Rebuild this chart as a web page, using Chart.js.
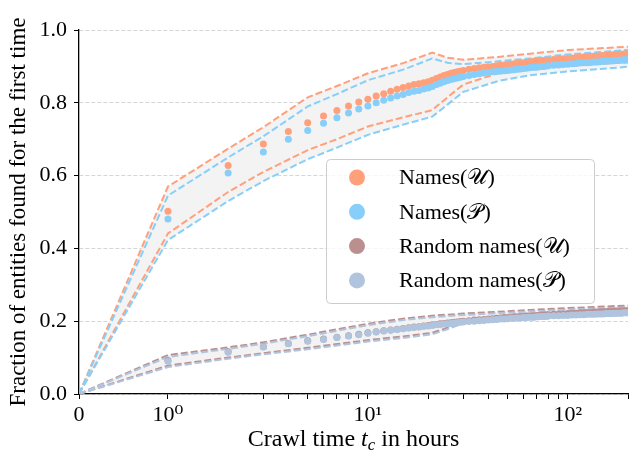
<!DOCTYPE html>
<html>
<head>
<meta charset="utf-8">
<script src="https://cdn.jsdelivr.net/npm/chart.js@4.4.1/dist/chart.umd.min.js"></script>
<style>
  html, body { margin: 0; padding: 0; background: #fff; }
</style>
</head>
<body>
<canvas id="myChart" width="641" height="452"></canvas>
<script>
// crawl time in hours for the dots
const hours = [1, 2, 3, 4, 5, 6, 7, 8, 9, 10, 11, 12, 13, 14, 15, 16, 17, 18, 19, 20,
    21, 22, 23, 24, 25, 26, 27, 28, 29, 30, 32, 34, 36, 38, 40, 42, 44, 46, 48, 50,
    52, 54, 56, 58, 60, 62, 64, 66, 68, 70, 72, 74, 76, 78, 80, 85, 90, 95, 100, 105,
    110, 115, 120, 125, 130, 135, 140, 145, 150, 155, 160, 165, 170, 175, 180, 185, 190, 195, 200];

const namesU = [.502, .628, .687, .721, .745, .764, .779, .791, .802, .810, .819, .825, .832, .837, .842, .846, .850, .852, .855, .858,
    .862, .867, .871, .875, .878, .881, .883, .885, .887, .889, .892, .894, .896, .898, .899, .900, .902, .903, .904, .905,
    .906, .907, .908, .909, .910, .911, .912, .913, .914, .914, .915, .916, .916, .917, .917, .919, .920, .921, .922, .923,
    .924, .925, .926, .926, .927, .928, .928, .929, .930, .930, .931, .931, .932, .932, .933, .933, .934, .934, .935];
const namesP = [.481, .607, .665, .700, .724, .744, .759, .772, .783, .791, .800, .807, .813, .819, .823, .828, .832, .834, .838, .841,
    .845, .850, .854, .858, .861, .864, .866, .868, .870, .872, .875, .878, .880, .882, .883, .885, .886, .887, .888, .889,
    .890, .891, .892, .893, .894, .895, .896, .897, .898, .898, .899, .900, .900, .901, .902, .903, .904, .905, .906, .907,
    .908, .909, .910, .910, .911, .912, .912, .913, .914, .914, .915, .915, .916, .916, .917, .917, .918, .918, .919];
const randomU = [.092, .116, .130, .139, .146, .151, .156, .160, .164, .168, .171, .174, .176, .178, .180, .182, .184, .185, .187, .188,
    .190, .191, .193, .194, .195, .196, .197, .198, .199, .200, .201, .203, .204, .205, .206, .207, .208, .209, .210, .210,
    .211, .212, .212, .213, .213, .214, .214, .215, .215, .216, .216, .217, .217, .218, .218, .219, .220, .220, .221, .222,
    .222, .223, .223, .224, .224, .225, .225, .226, .226, .226, .227, .227, .227, .228, .228, .228, .229, .229, .229];
const randomP = [.090, .115, .129, .138, .145, .150, .155, .159, .163, .167, .170, .173, .175, .177, .179, .181, .183, .184, .186, .187,
    .188, .190, .191, .192, .193, .194, .195, .196, .197, .198, .199, .200, .201, .202, .203, .204, .205, .206, .206, .207,
    .208, .208, .209, .209, .210, .210, .211, .211, .211, .212, .212, .213, .213, .213, .214, .215, .215, .216, .216, .217,
    .217, .218, .218, .219, .219, .219, .220, .220, .220, .221, .221, .221, .222, .222, .222, .222, .223, .223, .223];

// spread bands (dashed lines)
const bandHours = [0, 1, 2, 3, 5, 7, 10, 15, 21, 25, 30, 45, 65, 100, 200];
const namesUHi = [0, .570, .674, .733, .815, .846, .881, .909, .938, .924, .918, .926, .935, .945, .954];
const namesULo = [0, .441, .555, .610, .670, .700, .735, .760, .780, .815, .850, .882, .895, .902, .911];
const namesPHi = [0, .545, .650, .708, .790, .824, .862, .891, .922, .910, .906, .914, .922, .933, .945];
const namesPLo = [0, .423, .530, .585, .645, .677, .712, .740, .762, .795, .830, .860, .876, .886, .899];

const bandHoursR = [0, 1, 2, 3, 5, 10, 15, 21, 25, 30, 45, 65, 100, 200];
const randomUHi = [0, .107, .128, .142, .163, .193, .207, .215, .218, .221, .226, .231, .236, .243];
const randomULo = [0, .078, .100, .112, .127, .148, .158, .168, .182, .198, .209, .213, .216, .221];
const randomPHi = [0, .102, .124, .138, .159, .189, .203, .211, .214, .217, .222, .227, .232, .238];
const randomPLo = [0, .074, .097, .109, .123, .144, .154, .164, .178, .194, .205, .209, .212, .217];

const labels = ['Names(\u{1D4B0})', 'Names(\u{1D4AB})', 'Random names(\u{1D4B0})', 'Random names(\u{1D4AB})'];
const colors = ['#FFA07A', '#87CEFA', '#BC8F8F', '#B0C4DE'];

const xTicks = [0, 1, 10, 100];
const xTickLabels = ['0', '10\u2070', '10\u00B9', '10\u00B2'];

const FONT = '"Liberation Serif", "DejaVu Serif", serif';

// symmetric log axis: linear between 0 and 1, log above
const LIN = 0.445;
class SymlogScale extends Chart.LinearScale {
    static id = 'symlog';
    tr(v) {
        return v <= 1 ? v * LIN : LIN + Math.log10(v);
    }
    untr(t) {
        return t <= LIN ? t / LIN : Math.pow(10, t - LIN);
    }
    configure() {
        super.configure();
        this._tMin = this.tr(this.min);
        this._tMax = this.tr(this.max);
    }
    buildTicks() {
        let ticks = [{value: 0, major: true}];
        for (let d = 1; d <= this.max; d *= 10) {
            for (let m = 1; m < 10; m++) {
                if (d * m <= this.max) ticks.push({value: d * m, major: m === 1});
            }
        }
        return ticks;
    }
    getPixelForValue(v) {
        return this.getPixelForDecimal((this.tr(v) - this._tMin) / (this._tMax - this._tMin));
    }
    getValueForPixel(p) {
        return this.untr(this._tMin + this.getDecimalForPixel(p) * (this._tMax - this._tMin));
    }
}
Chart.register(SymlogScale);

function pts(xs, ys) {
    return xs.map((x, i) => ({x: x, y: ys[i]}));
}

function dots(label, xs, ys, color, order) {
    return {
        label: label, data: pts(xs, ys), showLine: false,
        pointRadius: 3.5, pointHoverRadius: 3.5, pointBorderWidth: 0,
        backgroundColor: color, borderColor: color, order: order
    };
}

function band(xs, ys, color, order, fillTo) {
    return {
        label: '', data: pts(xs, ys), showLine: true, pointRadius: 0,
        borderColor: color, borderWidth: 2, borderDash: [7, 3], tension: 0,
        fill: fillTo === undefined ? false : fillTo, backgroundColor: '#f3f3f3', order: order
    };
}

const legendPlugin = {
    id: 'boxLegend',
    afterDraw(chart) {
        const ctx = chart.ctx;
        const x0 = 326.5, y0 = 159.5, w = 268, h = 144;
        ctx.save();
        ctx.beginPath();
        ctx.roundRect(x0, y0, w, h, 4);
        ctx.fillStyle = 'rgba(255,255,255,0.8)';
        ctx.fill();
        ctx.strokeStyle = '#cccccc';
        ctx.lineWidth = 1;
        ctx.stroke();
        ctx.font = '22px ' + FONT;
        ctx.textBaseline = 'middle';
        ctx.fillStyle = '#000';
        labels.forEach((lab, i) => {
            const cy = 177.5 + i * 34.3;
            ctx.beginPath();
            ctx.arc(357, cy, 8, 0, Math.PI * 2);
            ctx.fillStyle = colors[i];
            ctx.fill();
            ctx.fillStyle = '#000';
            ctx.fillText(lab, 399, cy + 1);
        });
        ctx.restore();
    }
};

const xTitlePlugin = {
    id: 'xTitle',
    afterDraw(chart) {
        const ctx = chart.ctx;
        const area = chart.chartArea;
        const parts = [
            ['Crawl time ', '24px ' + FONT, 0],
            ['t', 'italic 24px ' + FONT, 0],
            ['c', 'italic 17px ' + FONT, 4],
            [' in hours', '24px ' + FONT, 0]
        ];
        ctx.save();
        let total = 0;
        parts.forEach(p => { ctx.font = p[1]; total += ctx.measureText(p[0]).width; });
        let x = (area.left + area.right) / 2 - total / 2;
        ctx.fillStyle = '#000';
        ctx.textBaseline = 'alphabetic';
        parts.forEach(p => {
            ctx.font = p[1];
            ctx.fillText(p[0], x, 446 + p[2]);
            x += ctx.measureText(p[0]).width;
        });
        ctx.restore();
    }
};

let ctx = document.getElementById('myChart').getContext('2d');
let chart = new Chart(ctx, {
    type: 'line',
    data: {
        datasets: [
            dots(labels[0], hours, namesU, colors[0], 3),
            dots(labels[1], hours, namesP, colors[1], 2),
            dots(labels[2], hours, randomU, colors[2], 1),
            dots(labels[3], hours, randomP, colors[3], 0),
            band(bandHours, namesUHi, colors[0], 13, '+1'),
            band(bandHours, namesULo, colors[0], 13),
            band(bandHours, namesPHi, colors[1], 12, '+1'),
            band(bandHours, namesPLo, colors[1], 12),
            band(bandHoursR, randomUHi, colors[2], 11, '+1'),
            band(bandHoursR, randomULo, colors[2], 11),
            band(bandHoursR, randomPHi, colors[3], 10, '+1'),
            band(bandHoursR, randomPLo, colors[3], 10)
        ]
    },
    options: {
        responsive: false,
        animation: false,
        events: [],
        layout: { padding: { top: 30, right: 13, left: 0, bottom: 0 } },
        plugins: {
            legend: { display: false },
            tooltip: { enabled: false },
            filler: { drawTime: 'beforeDatasetsDraw' }
        },
        scales: {
            x: {
                type: 'symlog',
                min: 0,
                max: 200,
                afterFit: s => { s.height = 58; },
                grid: { display: true, drawOnChartArea: false, drawTicks: true, tickLength: 5, color: '#000', tickWidth: 1 },
                border: { display: true, color: '#000', width: 1.3 },
                ticks: {
                    autoSkip: false, maxRotation: 0, padding: 3, color: '#000',
                    font: { family: FONT, size: 22 },
                    callback: v => {
                        let i = xTicks.indexOf(v);
                        return i >= 0 ? xTickLabels[i] : '';
                    }
                }
            },
            y: {
                min: 0,
                max: 1,
                afterFit: s => { s.width = 79; },
                grid: { color: 'rgba(0,0,0,0.16)', lineWidth: 1, tickLength: 5, tickColor: '#000', tickWidth: 1 },
                border: { display: true, color: '#000', width: 1.3, dash: [4, 2] },
                ticks: {
                    stepSize: 0.2, padding: 7, color: '#000',
                    font: { family: FONT, size: 22 },
                    callback: v => v.toFixed(1)
                },
                title: {
                    display: true,
                    text: 'Fraction of entities found for the first time',
                    color: '#000',
                    font: { family: FONT, size: 23 },
                    padding: { top: 5, bottom: 0 }
                }
            }
        }
    },
    plugins: [legendPlugin, xTitlePlugin]
});
</script>
</body>
</html>
